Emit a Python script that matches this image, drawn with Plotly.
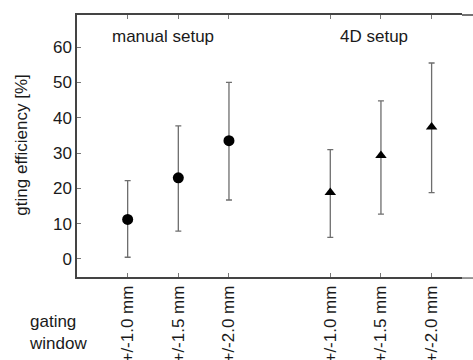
import plotly.graph_objects as go

# Data
manual_x = [1, 2, 3]
manual_y = [11.2, 23.0, 33.5]
manual_hi = [22.2, 37.7, 50.0]
manual_lo = [0.5, 7.9, 16.7]

d4_x = [5, 6, 7]
d4_y = [18.8, 29.3, 37.4]
d4_hi = [31.0, 44.8, 55.5]
d4_lo = [6.1, 12.7, 18.8]

tick_pos = [1, 2, 3, 5, 6, 7]
tick_text = ["+/-1.0 mm", "+/-1.5 mm", "+/-2.0 mm", "+/-1.0 mm", "+/-1.5 mm", "+/-2.0 mm"]

FONT = "Liberation Sans, Arial, sans-serif"
FS = 17
fig = go.Figure()

def add_series(xs, ys, hi, lo, symbol, size):
    fig.add_trace(go.Scatter(
        x=xs, y=ys, mode="markers",
        marker=dict(symbol=symbol, size=size, color="black"),
        error_y=dict(type="data", symmetric=False,
                     array=[h - y for h, y in zip(hi, ys)],
                     arrayminus=[y - l for y, l in zip(ys, lo)],
                     color="#6e6e6e", thickness=1.3, width=3),
        showlegend=False))

add_series(manual_x, manual_y, manual_hi, manual_lo, "circle", 11)
add_series(d4_x, d4_y, d4_hi, d4_lo, "triangle-up", 10)

fig.update_layout(
    width=473, height=360,
    margin=dict(l=77, r=11, t=15, b=83),
    paper_bgcolor="white", plot_bgcolor="white",
    font=dict(family=FONT, size=FS, color="#1a1a1a"),
    xaxis=dict(range=[0, 7.6], tickvals=tick_pos, ticktext=tick_text,
               tickangle=-90, ticks="inside", ticklen=4, tickcolor="#777",
               showline=True, linecolor="#444", linewidth=1.5, mirror="ticks",
               showgrid=False, zeroline=False, automargin=False),
    yaxis=dict(range=[-5.1, 69.1], tickvals=[0, 10, 20, 30, 40, 50, 60],
               ticks="inside", ticklen=4, tickcolor="#777",
               showline=True, linecolor="#444", linewidth=1.5,
               showgrid=False, zeroline=False, automargin=False),
)

fig.add_annotation(x=1.7, y=63, text="manual setup", showarrow=False,
                   font=dict(size=FS))
fig.add_annotation(x=5.87, y=63, text="4D setup", showarrow=False,
                   font=dict(size=FS))
fig.add_annotation(xref="paper", yref="paper", x=-0.143, y=0.505,
                   xanchor="center", yanchor="middle",
                   text="gting efficiency [%]", textangle=-90, showarrow=False,
                   font=dict(size=FS))
fig.add_annotation(xref="paper", yref="paper", x=-0.13, y=-0.21,
                   xanchor="left", yanchor="middle", align="left",
                   text="gating<br>window",
                   showarrow=False, font=dict(size=FS))

# top border continues to the right edge; small offset segment at bottom right
fig.add_shape(type="line", xref="paper", yref="paper", x0=1, x1=1.03, y0=1, y1=1,
              line=dict(color="#444", width=1.5))
fig.add_shape(type="line", xref="paper", yref="paper", x0=1, x1=1.03, y0=-0.004, y1=-0.004,
              line=dict(color="#777", width=1.5))

fig.write_html("out.html", config={"displayModeBar": False},
               post_script="document.body.style.margin='0';document.body.style.overflow='hidden';")
